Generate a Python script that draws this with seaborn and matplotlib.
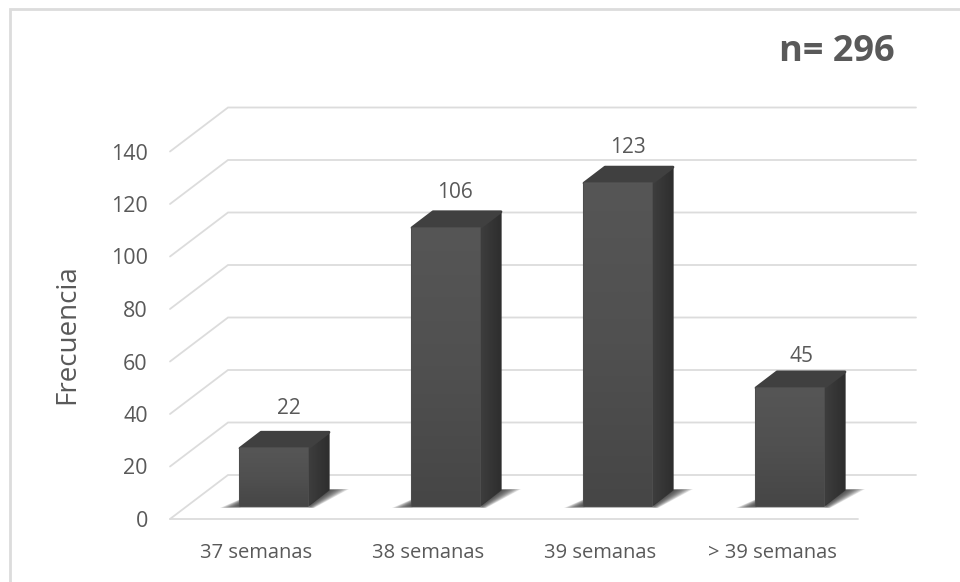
import numpy as np
import pandas as pd
import matplotlib
matplotlib.use("Agg")
import matplotlib.pyplot as plt
from matplotlib.lines import Line2D
from matplotlib.patches import Polygon
from matplotlib.transforms import Affine2D
import seaborn as sns

categories = ["37 semanas", "38 semanas", "39 semanas", "> 39 semanas"]
frequencies = [22, 106, 123, 45]
y_ticks = [0, 20, 40, 60, 80, 100, 120, 140]
sample_label = "n= 296"
y_title = "Frecuencia"

W, H = 960, 582
DPI = 100
TEXT = "#595959"
GRID = "#dcdcdc"

sns.set_theme(style="white")
plt.rcParams["font.family"] = ["Open Sans", "DejaVu Sans"]

fig = plt.figure(figsize=(W / DPI, H / DPI), dpi=DPI, facecolor="white")
# the axes rectangle is the front plane of the 3D box
left, right, bottom, top = 170, 858, 519, 151.5
ax = fig.add_axes([left / W, 1 - bottom / H, (right - left) / W, (bottom - top) / H])
ax.patch.set_alpha(0)

df = pd.DataFrame({"semanas": categories, "frecuencia": frequencies})
sns.barplot(data=df, x="semanas", y="frecuencia", width=0.395, color="#4d4d4d",
            saturation=1, ax=ax, zorder=3)
ax.set_ylim(0, 140)
ax.set_xlim(-0.5, 3.5)


def shifted(dx, dy):
    """Data transform moved by a pixel offset."""
    return ax.transData + Affine2D().translate(dx, dy)


def px(x, y, dx=0, dy=0):
    return shifted(dx, dy).transform((x, y))


fig_px = Affine2D().scale(1)  # display coordinates

# box depth and the depth at which the bars stand
BACK_X, BACK_Y = 58, 44
BAR_X, BAR_Y = 18, 13
DEPTH_X, DEPTH_Y = 21, 16
# pixel placement of each value label relative to its bar top
LABEL_OFFSETS = [(33, 53), (27, 48), (28, 49), (30, 44)]


def add_poly(points, color, z, alpha=1.0, lw=0):
    poly = Polygon(points, closed=True, facecolor=color, edgecolor=color if lw else "none",
                   linewidth=lw, alpha=alpha, transform=fig_px, zorder=z, clip_on=False,
                   joinstyle="round")
    ax.add_patch(poly)
    return poly


# side wall diagonals and back wall gridlines
for v in y_ticks:
    a = px(-0.5, v)
    b = px(-0.5, v, BACK_X, BACK_Y)
    c = px(3.5, v, BACK_X, BACK_Y)
    ax.plot([a[0], b[0], c[0]], [a[1], b[1], c[1]], transform=fig_px, color=GRID, lw=1.3,
            zorder=1, clip_on=False, solid_joinstyle="miter")
# front edge of the floor
f0 = px(-0.5, 0)
f1 = px(3.5, 0)
ax.plot([f0[0], f1[0]], [f0[1], f1[1]], transform=fig_px, color=GRID, lw=1.3,
        zorder=1, clip_on=False)

gradient = np.linspace(0, 1, 128).reshape(-1, 1)
face_cmap = matplotlib.colors.LinearSegmentedColormap.from_list(
    "face", ["#565656", "#505050", "#464646"])
side_cmap = matplotlib.colors.LinearSegmentedColormap.from_list(
    "side", ["#3e3e3e", "#363636", "#2e2e2e"])

for bar, value, offset in zip(ax.patches, frequencies, LABEL_OFFSETS):
    x0, w = bar.get_x(), bar.get_width()
    x1 = x0 + w
    # move the front face to its depth inside the box
    bar.set_transform(shifted(BAR_X, BAR_Y))
    bl = px(x0, 0, BAR_X, BAR_Y)
    br = px(x1, 0, BAR_X, BAR_Y)
    tl = px(x0, value, BAR_X, BAR_Y)
    tr = px(x1, value, BAR_X, BAR_Y)
    d = np.array([DEPTH_X, DEPTH_Y])

    # soft floor shadow, built from stacked translucent layers
    for spread in np.linspace(1, 0.1, 12):
        add_poly([bl + np.array([-spread * 20, -spread * 2]),
                  br + np.array([spread * 6, -spread * 2]),
                  br + d + np.array([spread * 20, spread * 1]),
                  bl + d], "#2a2a2a", 1.5, alpha=0.12)

    # side face
    side = add_poly([br, br + d, tr + d, tr], "#363636", 3.2, lw=1.0)
    im = ax.imshow(gradient.T, cmap=side_cmap, aspect="auto", zorder=3.3,
                   extent=(br[0], br[0] + d[0], br[1], tr[1] + d[1]), transform=fig_px)
    im.set_clip_path(side)

    # top face
    add_poly([tl, tr, tr + d, tl + d], "#404040", 3.4, lw=2.0)

    # front face gradient, clipped to the bar rectangle
    front = add_poly([bl, br, tr, tl], "#4d4d4d", 3.5, lw=1.5)
    im = ax.imshow(gradient, cmap=face_cmap, aspect="auto", zorder=3.6,
                   extent=(bl[0], br[0], bl[1], tl[1]), transform=fig_px)
    im.set_clip_path(front)

    # value label over the bar
    ax.annotate(str(value), xy=(x0 + w / 2, value), xycoords="data",
                xytext=offset, textcoords="offset pixels",
                ha="center", va="center", fontsize=15, color=TEXT, zorder=6)

ax.set_xlim(-0.5, 3.5)
ax.set_ylim(0, 140)

ax.set_yticks(y_ticks)
ax.set_yticklabels([str(v) for v in y_ticks], fontsize=15.5, color=TEXT)
ax.tick_params(axis="y", length=0, pad=16)
ax.tick_params(axis="x", length=0, pad=17, labelsize=14.5, labelcolor=TEXT)
ax.set_xlabel("")
ax.set_ylabel("")
sns.despine(ax=ax, left=True, bottom=True, top=True, right=True)

fig.text(67 / W, 1 - 334 / H, y_title, rotation=90, ha="center", va="center",
         fontsize=20, color=TEXT)
fig.text(837 / W, 1 - 52 / H, sample_label, ha="center", va="center", fontsize=26,
         fontweight="bold", color=TEXT)

# chart frame: only the top and left edges fall inside the image
frame = Line2D([9.5 / W, 9.5 / W, 1.0], [0.0, 1 - 8.5 / H, 1 - 8.5 / H],
               transform=fig.transFigure, color=GRID, lw=2.0, solid_joinstyle="miter")
fig.add_artist(frame)

fig.savefig("out.png", dpi=DPI, facecolor="white")
